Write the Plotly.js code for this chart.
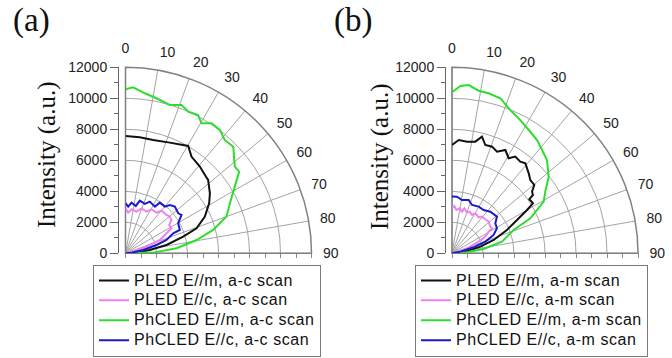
<!DOCTYPE html>
<html>
<head>
<meta charset="utf-8">
<script src="https://cdn.plot.ly/plotly-3.0.1.min.js"></script>
<style>html,body{margin:0;padding:0;background:#fff}#chart{width:672px;height:358px}</style>
</head>
<body>
<div id="chart"></div>
<script>
// ---------- data (angle in degrees, intensity in a.u.) ----------
const angleTicks = [0, 10, 20, 30, 40, 50, 60, 70, 80, 90];
const intensityTicks = [0, 2000, 4000, 6000, 8000, 10000, 12000];

// panel (a): a-c scan
const aPledM_theta = [0, 7.0, 13.7, 21.8, 30.3, 34.3, 40.6, 46.3, 48.4, 54.6, 59.1, 65.2, 70.6, 73.9, 78.5, 82.2, 86.5, 90];
const aPledM_r     = [7570, 7540, 7530, 7690, 8020, 7550, 7370, 7170, 7130, 6680, 6290, 5640, 4860, 3870, 2700, 1580, 710, 0];
const aPledC_theta = [0, 3.8, 7.8, 14.8, 19.6, 26.7, 30.6, 37.3, 40.2, 46.9, 50.4, 54.1, 57.0, 61.5, 64.0, 68.8, 71.1, 75.3, 85];
const aPledC_r     = [2900, 2630, 2865, 2780, 3080, 3010, 3300, 3300, 3600, 3620, 3710, 3665, 3360, 3380, 2940, 2380, 1660, 845, 0];
const aPhcM_theta  = [0, 2.6, 6.9, 11.3, 16.6, 20.7, 23.9, 27.7, 30.3, 33.5, 37.4, 41.2, 45.3, 51.6, 54.3, 58.6, 64.4, 70.0, 75.1, 79.4, 84.4, 88.6, 90];
const aPhcM_r      = [10580, 10720, 10400, 10200, 9990, 10230, 9990, 10080, 9710, 10060, 10020, 9720, 9780, 9000, 9030, 8260, 7470, 6930, 5850, 4660, 3310, 1790, 0];
const aPhcC_theta  = [0, 3.3, 6.8, 12.3, 15.2, 21.4, 25.2, 32.2, 34.1, 40.1, 42.5, 46.6, 52.8, 55.6, 60.3, 66.8, 67.2, 72.0, 75.0, 79.3, 83.7, 90];
const aPhcC_r      = [3230, 3020, 3290, 3125, 3520, 3420, 3685, 3560, 3950, 3940, 4230, 4380, 4270, 4380, 3910, 3815, 3340, 2780, 2070, 1160, 390, 0];

// panel (b): a-m scan
const bPledM_theta = [0, 3.4, 7.7, 11.8, 14.4, 17.1, 20.6, 23.9, 27.3, 30.8, 33.2, 36.7, 39.2, 43.8, 46.9, 50.3, 52.4, 54.2, 55.0, 58.3, 60.0, 62.9, 67.0, 72.3, 76.8, 82.9, 90];
const bPledM_r     = [6990, 7325, 7270, 7360, 7770, 7310, 7350, 7170, 7500, 7140, 7455, 7375, 7490, 7150, 6920, 6900, 6520, 6440, 6090, 6140, 5590, 4710, 3850, 2820, 1880, 860, 0];
const bPledC_theta = [0, 2.8, 5.7, 9.7, 13.5, 15.3, 20.2, 23.0, 27.6, 30.3, 36.5, 39.3, 44.4, 49.2, 55.2, 58.0, 59.4, 63.4, 66.4, 71.6, 78.7, 88];
const bPledC_r     = [2900, 3060, 2810, 2945, 2765, 3010, 2796, 2920, 2790, 2990, 2890, 3056, 3070, 3125, 3010, 3045, 2750, 2405, 1880, 1020, 330, 0];
const bPhcM_theta  = [0, 2.9, 5.7, 9.3, 12.9, 17.3, 22.1, 26.3, 31.9, 36.9, 41.1, 45.5, 51.6, 56.5, 60.6, 65.9, 69.3, 76.9, 82.2, 86.2, 90];
const bPhcM_r      = [10390, 10810, 10910, 10630, 10590, 10480, 9980, 9710, 9370, 9140, 8840, 8590, 7960, 7220, 6790, 5535, 4250, 3310, 2060, 970, 0];
const bPhcC_theta  = [0, 5.0, 10.6, 17.4, 22.5, 29.7, 36.2, 42.6, 50.8, 55.3, 60.9, 66.2, 70.7, 74.5, 78.7, 88];
const bPhcC_r      = [3660, 3670, 3500, 3600, 3375, 3470, 3460, 3650, 3745, 3400, 3320, 2935, 2280, 1450, 550, 0];

const namesA = ['PLED E//m, a-c scan', 'PLED E//c, a-c scan', 'PhCLED E//m, a-c scan', 'PhCLED E//c, a-c scan'];
const namesB = ['PLED E//m, a-m scan', 'PLED E//c, a-m scan', 'PhCLED E//m, a-m scan', 'PhCLED E//c, a-m scan'];
const colors = ['#111111', '#ee82ee', '#2fdd2f', '#1a1acc'];

// ---------- layout geometry ----------
const W = 672, H = 358;
const SANS = 'Liberation Sans, Arial, sans-serif';
const SERIF = 'Liberation Serif, Times New Roman, serif';
const R = 186, oy = 253.3;
const oxA = 125.5, oxB = 452;
const yDom = [(H - oy) / H, (H - oy + R) / H];
const xDomA = [oxA / W, (oxA + R) / W];
const xDomB = [oxB / W, (oxB + R) / W];

function minorPolar(xd) {
  return {
    domain: {x: xd, y: yDom}, sector: [0, 90], bgcolor: '#ffffff',
    angularaxis: {rotation: 90, direction: 'clockwise', tickmode: 'linear', tick0: 0, dtick: 5,
      showticklabels: false, ticks: '', gridcolor: '#dcdcdc', gridwidth: 1, showline: false, layer: 'below traces'},
    radialaxis: {range: [0, 12000], tickmode: 'linear', tick0: 0, dtick: 1000, angle: 90,
      showticklabels: false, ticks: '', gridcolor: '#dcdcdc', gridwidth: 1, showline: false, layer: 'below traces'}
  };
}
function majorPolar(xd) {
  return {
    domain: {x: xd, y: yDom}, sector: [0, 90], bgcolor: 'rgba(0,0,0,0)',
    angularaxis: {rotation: 90, direction: 'clockwise', tickmode: 'array', tickvals: angleTicks,
      ticktext: angleTicks.map(String), ticks: 'outside', ticklen: 8, tickcolor: 'rgba(0,0,0,0)',
      tickfont: {family: SANS, size: 14, color: '#222'},
      gridcolor: '#a4a4a4', gridwidth: 1, showline: true, linecolor: '#808080', linewidth: 1.5, layer: 'below traces'},
    radialaxis: {range: [0, 12000], tickmode: 'linear', tick0: 0, dtick: 2000, angle: 90,
      showticklabels: false, ticks: '', gridcolor: '#a4a4a4', gridwidth: 1, showline: false, layer: 'below traces'}
  };
}
function yAx(xpos) {
  return {domain: yDom, range: [0, 12000], anchor: 'free', position: xpos, automargin: false,
    tickmode: 'array', tickvals: intensityTicks, tickformat: 'd', ticks: 'outside', ticklen: 8, tickwidth: 1, tickcolor: '#666',
    minor: {ticks: 'outside', ticklen: 4, dtick: 1000, tick0: 0, tickcolor: '#666'},
    showline: true, linecolor: '#666', linewidth: 1, showgrid: false, zeroline: false,
    tickfont: {family: SANS, size: 14, color: '#222'}, fixedrange: true};
}
function xAx(xd) {
  return {domain: xd, range: [0, 12000], anchor: 'free', position: yDom[0], automargin: false,
    tickmode: 'linear', tick0: 0, dtick: 1000, ticks: 'outside', ticklen: 4, tickcolor: '#888',
    showticklabels: false, showline: false, showgrid: false, zeroline: false, fixedrange: true};
}

const label = s => '<span style="font-size:16px;letter-spacing:0.55px">' + s + '</span>';
const data = [];
const setsA = [[aPledM_theta, aPledM_r], [aPledC_theta, aPledC_r], [aPhcM_theta, aPhcM_r], [aPhcC_theta, aPhcC_r]];
const setsB = [[bPledM_theta, bPledM_r], [bPledC_theta, bPledC_r], [bPhcM_theta, bPhcM_r], [bPhcC_theta, bPhcC_r]];
setsA.forEach((s, i) => data.push({type: 'scatterpolar', mode: 'lines', theta: s[0], r: s[1], name: label(namesA[i]),
  subplot: 'polar2', legend: 'legend', line: {color: colors[i], width: 2}}));
setsB.forEach((s, i) => data.push({type: 'scatterpolar', mode: 'lines', theta: s[0], r: s[1], name: label(namesB[i]),
  subplot: 'polar4', legend: 'legend2', line: {color: colors[i], width: 2}}));
data.push({type: 'scatter', x: [], y: [], xaxis: 'x', yaxis: 'y', showlegend: false, hoverinfo: 'skip'});
data.push({type: 'scatter', x: [], y: [], xaxis: 'x2', yaxis: 'y2', showlegend: false, hoverinfo: 'skip'});

const legendStyle = (x) => ({x: x / W, y: 1.5 / H, xanchor: 'left', yanchor: 'bottom',
  bgcolor: '#ffffff', bordercolor: '#7a7a7a', borderwidth: 1, tracegroupgap: 0,
  font: {family: SANS, size: 13, color: '#111'}});

const ann = (text, x, y, size, angle) => ({text: text, xref: 'paper', yref: 'paper', x: x / W, y: (H - y) / H,
  xanchor: 'center', yanchor: 'middle', showarrow: false, textangle: angle,
  font: {family: SERIF, size: size, color: '#111'}});

const layout = {
  width: W, height: H, margin: {l: 0, r: 0, t: 0, b: 0, pad: 0, autoexpand: false},
  paper_bgcolor: '#ffffff', plot_bgcolor: 'rgba(0,0,0,0)', showlegend: true,
  polar: minorPolar(xDomA), polar2: majorPolar(xDomA),
  polar3: minorPolar(xDomB), polar4: majorPolar(xDomB),
  xaxis: xAx(xDomA), yaxis: yAx(118 / W),
  xaxis2: xAx(xDomB), yaxis2: yAx(445 / W),
  legend: legendStyle(93),
  legend2: legendStyle(415),
  annotations: [
    ann('(a)', 31, 20, 33, 0),
    ann('(b)', 353, 20, 33, 0),
    ann('Intensity (a.u.)', 47, 155, 25, -90),
    ann('Intensity (a.u.)', 380, 157, 25, -90)
  ]
};

Plotly.newPlot('chart', data, layout, {staticPlot: true, displayModeBar: false});
</script>
</body>
</html>
